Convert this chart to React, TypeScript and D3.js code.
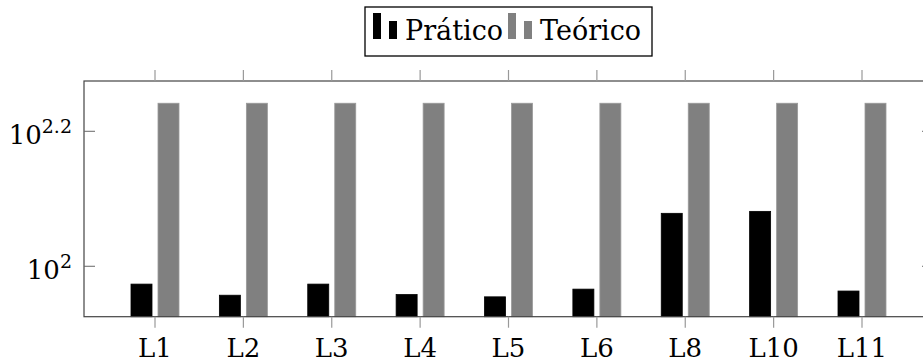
import { scaleLog, scalePoint } from 'd3';

// values
const categories = ['L1', 'L2', 'L3', 'L4', 'L5', 'L6', 'L8', 'L10', 'L11'];
const pratico = [94.1, 90.6, 94.1, 90.8, 90.1, 92.5, 119.8, 120.6, 91.9];
const teorico = [174.4, 174.4, 174.4, 174.4, 174.4, 174.4, 174.4, 174.4, 174.4];
const yTickExponents = ['2', '2.2'];
const seriesNames = ['Prático', 'Teórico'];

export default function App() {
    const width = 923;
    const height = 363;
    const plot = { left: 84, right: 933, top: 81, bottom: 316.7 };
    const font = "'DejaVu Serif', serif";
    const colors = ['#000000', '#808080'];

    const scaleX = scalePoint()
        .domain(categories)
        .range([plot.left + 71, plot.right - 71]);

    const scaleY = scaleLog()
        .domain([Math.pow(10, 1.9253), Math.pow(10, 2.2745)])
        .range([plot.bottom, plot.top]);

    const barW = 21;
    const offsets = [-13.5, 13.5];
    const series = [pratico, teorico];

    return (
        <svg
            width={width}
            height={height}
            style={{ position: 'absolute', left: 0, top: 0 }}
            fontFamily={font}
        >
            <rect width={width} height={height} fill='white' />

            {/* bars */}
            {series.map((values, s) =>
                values.map((v, i) => {
                    const cx = scaleX(categories[i]) + offsets[s];
                    const y = scaleY(v);
                    return (
                        <rect
                            key={`bar-${s}-${i}`}
                            x={cx - barW / 2}
                            y={y}
                            width={barW}
                            height={plot.bottom - y}
                            fill={colors[s]}
                            stroke={s === 0 ? '#000' : '#9a9a9a'}
                            strokeWidth={0.8}
                        />
                    );
                })
            )}

            {/* frame */}
            <rect
                x={plot.left}
                y={plot.top}
                width={plot.right - plot.left}
                height={plot.bottom - plot.top}
                fill='none'
                stroke='#444'
                strokeWidth={1.2}
            />

            {/* x ticks, outward on top and bottom */}
            {categories.map((c) => (
                <g key={`xt-${c}`}>
                    <line
                        x1={scaleX(c)}
                        x2={scaleX(c)}
                        y1={plot.bottom}
                        y2={plot.bottom + 11}
                        stroke='#999'
                        strokeWidth={1.2}
                    />
                    <line
                        x1={scaleX(c)}
                        x2={scaleX(c)}
                        y1={plot.top}
                        y2={plot.top - 11}
                        stroke='#999'
                        strokeWidth={1.2}
                    />
                    <text
                        x={scaleX(c)}
                        y={357}
                        textAnchor='middle'
                        fontSize={26}
                    >
                        {c}
                    </text>
                </g>
            ))}

            {/* y ticks, inward on both sides */}
            {yTickExponents.map((e) => {
                const y = scaleY(Math.pow(10, +e));
                return (
                    <g key={`yt-${e}`}>
                        <line
                            x1={plot.left}
                            x2={plot.left + 11}
                            y1={y}
                            y2={y}
                            stroke='#666'
                            strokeWidth={1}
                        />
                        <line
                            x1={plot.right}
                            x2={plot.right - 11}
                            y1={y}
                            y2={y}
                            stroke='#666'
                            strokeWidth={1}
                        />
                        <text x={72} y={y + 13} textAnchor='end' fontSize={26}>
                            10
                            <tspan fontSize={19} dy={-11}>
                                {e}
                            </tspan>
                        </text>
                    </g>
                );
            })}

            {/* legend */}
            <g>
                <rect
                    x={365}
                    y={7}
                    width={287}
                    height={49}
                    fill='white'
                    stroke='#000'
                    strokeWidth={1.3}
                />
                {seriesNames.map((name, s) => {
                    const x0 = s === 0 ? 373 : 508;
                    return (
                        <g key={`leg-${name}`}>
                            <rect x={x0} y={13} width={8} height={26} fill={colors[s]} />
                            <rect x={x0 + 16} y={21} width={8} height={18} fill={colors[s]} />
                            <text x={x0 + 32} y={40} fontSize={27}>
                                {name}
                            </text>
                        </g>
                    );
                })}
            </g>
        </svg>
    );
}
